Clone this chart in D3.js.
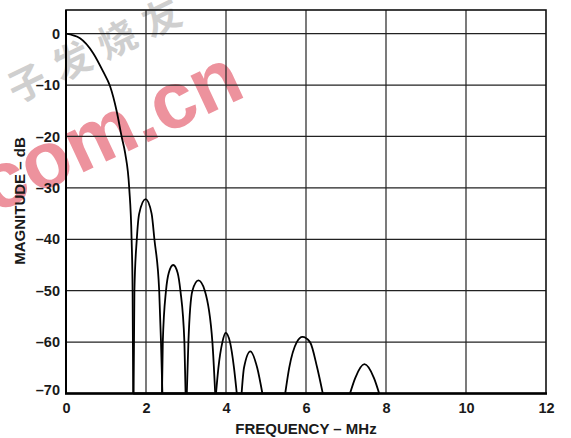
<!DOCTYPE html>
<html>
<head>
<meta charset="utf-8">
<script src="https://cdn.jsdelivr.net/npm/d3@7"></script>
<style>
  html, body { margin: 0; padding: 0; background: #fff; }
  svg { display: block; }
  text { font-family: "Liberation Sans", Arial, Helvetica, sans-serif; font-weight: bold; fill: #1a1a1a; }
</style>
</head>
<body>
<script>
// ---- data ----
const xTicks = [0, 2, 4, 6, 8, 10, 12];
const yTicks = [0, -10, -20, -30, -40, -50, -60, -70];
const xTitle = "FREQUENCY – MHz";
const yTitle = "MAGNITUDE – dB";

// main lobe [MHz, dB]
const mainLobe = [[0,0],[0.35,-0.9],[0.68,-3.8],[0.93,-7.4],[1.1,-10.2],[1.27,-15.2],[1.39,-20],[1.48,-23.3],[1.58,-30],[1.64,-40],[1.665,-50],[1.68,-70]];
// side lobes
const lobe1 = [[1.69,-70],[1.71,-50],[1.77,-40],[1.83,-35],[1.99,-32.2],[2.14,-35],[2.21,-40],[2.33,-50],[2.375,-60],[2.41,-70]];
const lobe2 = [[2.4,-70],[2.42,-60],[2.5,-50],[2.57,-46.5],[2.68,-45],[2.79,-46.5],[2.86,-50],[2.96,-60],[2.99,-70]];
const lobe3 = [[3.02,-70],[3.06,-60],[3.16,-50],[3.31,-48],[3.47,-50],[3.66,-60],[3.73,-70]];
const lobe4 = [[3.75,-70],[3.81,-65],[3.91,-60],[3.99,-58.2],[4.1,-60],[4.2,-65],[4.27,-70]];
const lobe5 = [[4.39,-70],[4.45,-65],[4.61,-61.8],[4.78,-65],[4.91,-70]];
const lobe6 = [[5.48,-70],[5.58,-65],[5.77,-60],[5.91,-59],[6.1,-60],[6.28,-65],[6.42,-70]];
const lobe7 = [[7.1,-70],[7.23,-67],[7.46,-64.3],[7.7,-67],[7.83,-70]];
const baseline = [[1.68,-70],[7.83,-70]];

const W = 571, H = 438;
const svg = d3.select("body").append("svg").attr("width", W).attr("height", H);

const x = d3.scaleLinear().domain([0, 12]).range([66, 546]);
const y = d3.scaleLinear().domain([-70, 4.6]).range([393.5, 10]);

// watermark (behind)
const wm = svg.append("g").attr("class", "watermark");
wm.append("text")
  .attr("transform", "translate(16,104) rotate(-26)")
  .style("font-family", "'Noto Sans CJK SC', sans-serif")
  .style("font-size", "38px")
  .style("font-weight", "bold")
  .style("fill", "#cfcfcf")
  .attr("letter-spacing", "12")
  .text("子发烧友");
wm.append("text")
  .attr("transform", "translate(-6,214) rotate(-25)")
  .style("font-size", "80px")
  .style("font-weight", "bold")
  .style("fill", "#ea7f8c")
  .style("opacity", 0.85)
  .text("com.cn");

// grid
const g = svg.append("g");
g.selectAll("line.hg").data(yTicks).enter().append("line")
  .attr("x1", x(0)).attr("x2", x(12))
  .attr("y1", d => y(d)).attr("y2", d => y(d))
  .attr("stroke", "#222").attr("stroke-width", 1.2);
g.selectAll("line.vg").data(xTicks.slice(1, -1)).enter().append("line")
  .attr("x1", d => x(d)).attr("x2", d => x(d))
  .attr("y1", y(4.6)).attr("y2", y(-70))
  .attr("stroke", "#222").attr("stroke-width", 1.2);

// curve
const line = d3.line().x(d => x(d[0])).y(d => y(d[1])).curve(d3.curveMonotoneX);
[mainLobe, lobe1, lobe2, lobe3, lobe4, lobe5, lobe6, lobe7, baseline].forEach(s => {
  svg.append("path").datum(s).attr("d", line)
    .attr("fill", "none").attr("stroke", "#000").attr("stroke-width", 1.8)
    .attr("stroke-linejoin", "round");
});

// frame
svg.append("rect")
  .attr("x", x(0)).attr("y", y(4.6))
  .attr("width", x(12) - x(0)).attr("height", y(-70) - y(4.6))
  .attr("fill", "none").attr("stroke", "#111").attr("stroke-width", 1.6);
svg.append("line").attr("x1", x(0) - 1).attr("x2", x(12) + 1)
  .attr("y1", y(-70)).attr("y2", y(-70)).attr("stroke", "#000").attr("stroke-width", 2.5);
svg.append("line").attr("x1", x(0)).attr("x2", x(0))
  .attr("y1", y(4.6)).attr("y2", y(-70)).attr("stroke", "#000").attr("stroke-width", 2);

// axes via d3
const fmt = d => (d < 0 ? "–" + Math.abs(d) : String(d));
const yAxis = d3.axisLeft(y).tickValues(yTicks).tickSize(0).tickPadding(6).tickFormat(fmt);
const ya = svg.append("g").attr("transform", `translate(${x(0)},0)`).call(yAxis);
ya.select(".domain").remove();
ya.selectAll("text").style("font-size", "14.5px").style("font-family", "'Liberation Sans', Arial, sans-serif").style("font-weight", "bold").attr("fill", "#1a1a1a");
ya.selectAll(".tick").filter(d => d === -70).select("text").attr("dy", "0.1em");

const xAxis = d3.axisBottom(x).tickValues(xTicks).tickSize(0).tickPadding(9).tickFormat(fmt);
const xa = svg.append("g").attr("transform", `translate(0,${y(-70)})`).call(xAxis);
xa.select(".domain").remove();
xa.selectAll("text").style("font-size", "14.5px").style("font-family", "'Liberation Sans', Arial, sans-serif").style("font-weight", "bold").attr("fill", "#1a1a1a");

// titles
svg.append("text").attr("x", 306).attr("y", 434).attr("text-anchor", "middle")
  .style("font-size", "15px").text(xTitle);
svg.append("text").attr("transform", "translate(25,201) rotate(-90)").attr("text-anchor", "middle")
  .style("font-size", "15px").text(yTitle);
</script>
</body>
</html>
